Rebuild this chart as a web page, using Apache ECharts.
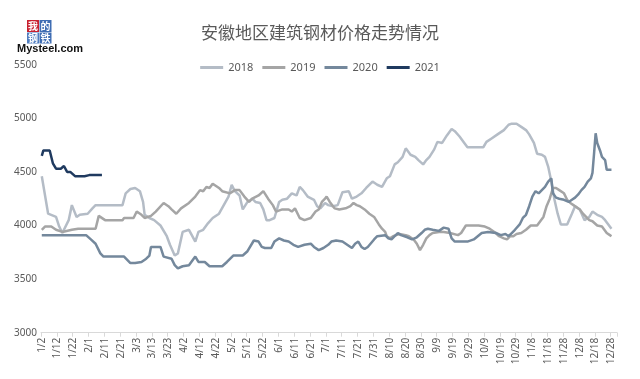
<!DOCTYPE html>
<html><head><meta charset="utf-8">
<script src="https://cdn.jsdelivr.net/npm/echarts@6/dist/echarts.min.js"></script>
<style>html,body{margin:0;padding:0;background:#fff}#c{width:640px;height:379px}</style>
</head><body><div id="c"></div>
<script>
// categories: every day from 1/2 to 12/31
const monthDays = [31,28,31,30,31,30,31,31,30,31,30,31];
const categories = [];
for (let m = 0; m < 12; m++) for (let d = 1; d <= monthDays[m]; d++) { if (m === 0 && d === 1) continue; categories.push((m+1) + '/' + d); }

const yTicks = [3000, 3500, 4000, 4500, 5000, 5500];
const seriesNames = ['2018', '2019', '2020', '2021'];

const dates2018 = ['1/2','1/6','1/7','1/11','1/13','1/15','1/19','1/21','1/24','1/26','1/31','2/3','2/5','2/22','2/24','2/27','3/2','3/5','3/7','3/8','3/11','3/14','3/18','3/22','3/24','3/27','3/29','4/1','4/5','4/9','4/11','4/14','4/17','4/20','4/24','4/27','4/30','5/2','5/4','5/7','5/9','5/12','5/15','5/17','5/20','5/22','5/24','5/26','5/29','6/1','6/3','6/6','6/9','6/12','6/14','6/16','6/19','6/23','6/25','6/27','6/30','7/2','7/5','7/8','7/11','7/15','7/17','7/20','7/23','7/26','7/30','8/2','8/5','8/8','8/10','8/13','8/15','8/18','8/20','8/23','8/26','8/28','8/31','9/2','9/4','9/7','9/9','9/12','9/15','9/18','9/20','9/23','9/26','9/28','10/8','10/10','10/13','10/17','10/21','10/24','10/26','10/29','11/1','11/4','11/6','11/9','11/11','11/14','11/16','11/18','11/20','11/22','11/24','11/26','11/30','12/3','12/5','12/8','12/11','12/14','12/16','12/19','12/22','12/24','12/26','12/28'];
const vals2018 = [4460,4110,4100,4080,3990,3930,4050,4190,4080,4100,4110,4160,4190,4190,4300,4340,4350,4320,4220,4100,4070,4050,4000,3900,3820,3720,3740,3940,3960,3850,3940,3960,4020,4070,4110,4190,4270,4380,4320,4280,4150,4220,4250,4220,4210,4150,4050,4050,4070,4220,4240,4250,4300,4280,4360,4330,4270,4240,4180,4160,4210,4190,4180,4190,4310,4320,4250,4270,4300,4350,4410,4380,4360,4440,4460,4570,4590,4640,4720,4660,4640,4610,4570,4610,4640,4710,4780,4770,4840,4900,4880,4830,4770,4730,4730,4780,4810,4850,4890,4940,4950,4950,4920,4890,4850,4770,4670,4660,4640,4550,4410,4240,4110,4010,4010,4110,4180,4150,4050,4080,4130,4100,4080,4050,4010,3970];

const dates2019 = ['1/2','1/4','1/8','1/11','1/15','1/21','1/25','2/5','2/7','2/11','2/22','2/23','3/1','3/3','3/6','3/8','3/12','3/15','3/20','3/23','3/25','3/28','3/31','4/5','4/9','4/12','4/14','4/16','4/18','4/20','4/24','4/26','5/1','5/4','5/7','5/10','5/13','5/15','5/19','5/22','5/25','5/28','5/30','6/3','6/7','6/9','6/11','6/14','6/17','6/21','6/24','6/26','6/28','6/30','7/1','7/3','7/6','7/9','7/13','7/16','7/18','7/20','7/22','7/25','7/28','7/31','8/3','8/5','8/7','8/8','8/10','8/12','8/14','8/16','8/20','8/22','8/25','8/27','8/29','8/31','9/2','9/4','9/6','9/10','9/13','9/17','9/22','9/24','9/27','10/5','10/9','10/12','10/15','10/18','10/21','10/23','10/25','10/27','10/29','11/1','11/4','11/7','11/11','11/13','11/15','11/17','11/19','11/21','11/23','11/25','11/28','11/30','12/2','12/4','12/6','12/8','12/10','12/12','12/14','12/16','12/19','12/22','12/25','12/27','12/28'];
const vals2019 = [3960,3990,3990,3960,3940,3960,3970,3970,4090,4050,4050,4070,4070,4130,4100,4070,4090,4130,4210,4180,4150,4110,4160,4210,4270,4330,4320,4360,4350,4390,4350,4320,4300,4330,4330,4270,4220,4250,4280,4320,4250,4190,4130,4150,4150,4130,4160,4070,4050,4070,4130,4150,4220,4250,4270,4220,4160,4150,4160,4180,4210,4190,4180,4150,4110,4080,4010,3970,3940,3900,3880,3900,3910,3920,3910,3900,3870,3830,3770,3820,3880,3910,3930,3940,3940,3930,3910,3930,4000,4000,3990,3970,3940,3900,3880,3870,3900,3900,3920,3930,3960,4000,4000,4040,4080,4180,4250,4350,4350,4330,4300,4240,4210,4190,4170,4150,4110,4080,4050,4040,4000,3990,3930,3910,3900];

const dates2020 = ['1/2','1/30','2/2','2/5','2/8','2/10','2/23','2/27','3/2','3/6','3/9','3/11','3/12','3/18','3/20','3/25','3/27','3/29','4/1','4/5','4/9','4/11','4/15','4/18','4/26','4/29','5/3','5/9','5/12','5/16','5/19','5/21','5/23','5/27','5/29','6/1','6/4','6/7','6/10','6/13','6/17','6/21','6/23','6/26','6/29','7/2','7/4','7/7','7/11','7/14','7/17','7/19','7/21','7/23','7/25','7/27','7/31','8/2','8/7','8/9','8/11','8/13','8/15','8/17','8/21','8/24','8/27','8/30','9/1','9/3','9/6','9/10','9/13','9/16','9/18','9/20','9/28','10/2','10/7','10/11','10/16','10/19','10/22','10/24','10/26','10/28','10/31','11/2','11/4','11/6','11/8','11/10','11/12','11/14','11/16','11/18','11/20','11/21','11/23','11/25','11/28','12/1','12/3','12/5','12/7','12/9','12/11','12/13','12/15','12/16','12/17','12/18','12/19','12/21','12/22','12/24','12/25','12/28'];
const vals2020 = [3910,3910,3870,3830,3740,3710,3710,3650,3650,3660,3690,3720,3800,3800,3710,3690,3630,3600,3620,3630,3710,3660,3660,3620,3620,3660,3720,3720,3760,3860,3850,3800,3790,3790,3850,3880,3860,3850,3820,3800,3820,3830,3800,3770,3790,3820,3850,3860,3850,3820,3790,3830,3850,3800,3780,3800,3870,3900,3910,3880,3870,3900,3930,3910,3890,3870,3890,3930,3960,3970,3960,3950,3980,3970,3880,3850,3850,3870,3930,3940,3930,3910,3920,3900,3930,3960,4010,4070,4100,4180,4270,4320,4300,4330,4360,4410,4440,4300,4260,4250,4240,4220,4240,4260,4290,4330,4360,4410,4440,4490,4670,4860,4770,4690,4640,4610,4520,4520];

const dates2021 = ['1/2','1/3','1/7','1/9','1/11','1/14','1/16','1/18','1/20','1/21','1/23','1/29','2/1','2/9'];
const vals2021 = [4650,4700,4700,4580,4530,4530,4555,4500,4500,4510,4460,4460,4470,4470];

const colors = ['#b4bcc6', '#a5a5a5', '#74889c', '#1f3a5f'];
const pairs = (ds, vs) => ds.map((d, i) => [d, vs[i]]);
const allData = [pairs(dates2018, vals2018), pairs(dates2019, vals2019), pairs(dates2020, vals2020), pairs(dates2021, vals2021)];

const chart = echarts.init(document.getElementById('c'), null, {renderer: 'canvas'});
chart.setOption({
  animation: false,
  backgroundColor: '#ffffff',
  title: {
    text: '安徽地区建筑钢材价格走势情况',
    left: 'center', top: 19,
    textStyle: {fontFamily: 'Noto Sans CJK SC', fontSize: 17, fontWeight: 'normal', color: '#595959'}
  },
  legend: {
    top: 57, left: 'center',
    itemWidth: 23, itemHeight: 3, itemGap: 9,
    icon: 'rect',
    textStyle: {fontFamily: 'Noto Sans', fontSize: 11, color: '#595959'},
    data: seriesNames
  },
  graphic: [
    {type: 'rect', shape: {x: 27, y: 20, width: 12, height: 12}, style: {fill: '#c8202f'}},
    {type: 'rect', shape: {x: 39.5, y: 20, width: 12, height: 12}, style: {fill: '#3f6db3'}},
    {type: 'rect', shape: {x: 27, y: 32.5, width: 12, height: 11}, style: {fill: '#4f7dc0'}},
    {type: 'rect', shape: {x: 39.5, y: 32.5, width: 12, height: 11}, style: {fill: '#3f6db3'}},
    {type: 'text', style: {x: 33, y: 26, text: '我', fill: '#fff', font: 'bold 10px "Noto Sans CJK SC"', align: 'center', verticalAlign: 'middle'}},
    {type: 'text', style: {x: 45.5, y: 26, text: '的', fill: '#fff', font: 'bold 10px "Noto Sans CJK SC"', align: 'center', verticalAlign: 'middle'}},
    {type: 'text', style: {x: 33, y: 38, text: '钢', fill: '#fff', font: 'bold 10px "Noto Sans CJK SC"', align: 'center', verticalAlign: 'middle'}},
    {type: 'text', style: {x: 45.5, y: 38, text: '铁', fill: '#fff', font: 'bold 10px "Noto Sans CJK SC"', align: 'center', verticalAlign: 'middle'}},
    {type: 'text', style: {x: 17, y: 49, text: 'Mysteel.com', fill: '#111', font: 'bold 11px "Liberation Sans"', align: 'left', verticalAlign: 'middle'}}
  ],
  grid: {left: 41, right: 23, top: 64.7, bottom: 46.3, containLabel: false},
  xAxis: {
    type: 'category',
    data: categories,
    boundaryGap: true,
    axisLine: {lineStyle: {color: '#d9d9d9'}},
    axisTick: {show: true, interval: 9, length: 4, lineStyle: {color: '#d9d9d9'}},
    axisLabel: {interval: 9, rotate: 90, fontSize: 10, color: '#595959', fontFamily: 'Noto Sans', margin: 5}
  },
  yAxis: {
    type: 'value', min: yTicks[0], max: yTicks[yTicks.length - 1], interval: 500,
    axisLine: {show: false}, axisTick: {show: false}, splitLine: {show: false},
    axisLabel: {fontSize: 10, color: '#595959', fontFamily: 'Noto Sans', margin: 4, formatter: v => String(v)}
  },
  series: seriesNames.map((n, i) => ({
    name: n, type: 'line', data: allData[i], showSymbol: false, symbol: 'none',
    lineStyle: {width: 2.5, color: colors[i]}, itemStyle: {color: colors[i]},
    z: i === 3 ? 5 : 2
  }))
});
</script></body></html>
